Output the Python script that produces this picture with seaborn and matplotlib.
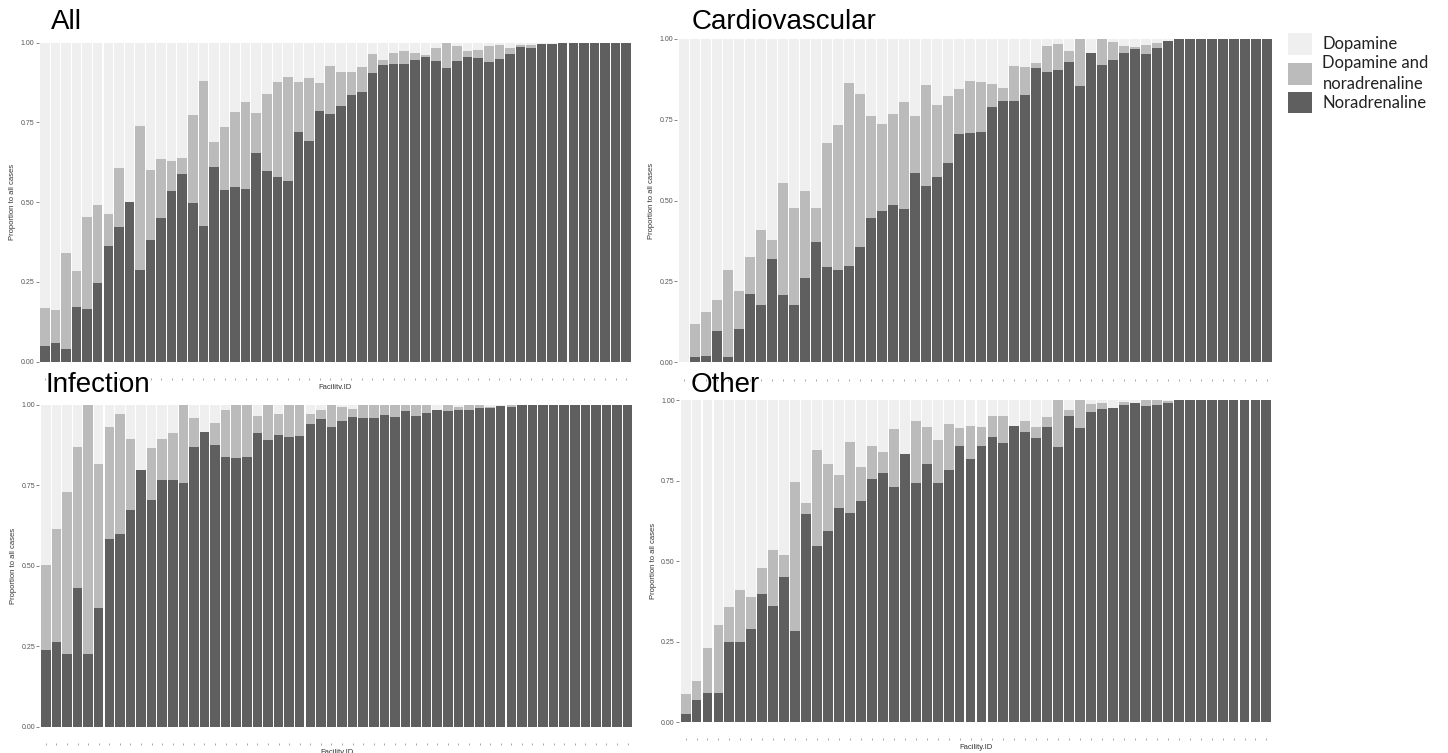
import numpy as np
import pandas as pd
import matplotlib
matplotlib.use("Agg")
import matplotlib.pyplot as plt
from matplotlib.patches import Patch
import seaborn as sns

# ---------------- data ----------------
categories = ["Dopamine", "Dopamine and noradrenaline", "Noradrenaline"]
legend_labels = ["Dopamine", "Dopamine and\nnoradrenaline", "Noradrenaline"]
palette = ["#EFEFEF", "#BBBBBB", "#5F5F5F"]
panel_titles = ["All", "Cardiovascular", "Infection", "Other"]
y_ticks = [0.0, 0.25, 0.5, 0.75, 1.0]
y_tick_labels = ["0.00", "0.25", "0.50", "0.75", "1.00"]
x_title = "Facility.ID"
y_title = "Proportion to all cases"

# proportion of noradrenaline only, and of dopamine + noradrenaline, per facility
all_nor = [0.049, 0.06, 0.039, 0.172, 0.165, 0.246, 0.362, 0.422, 0.50, 0.287,
           0.383, 0.45, 0.536, 0.588, 0.498, 0.425, 0.609, 0.539, 0.548, 0.541,
           0.653, 0.598, 0.58, 0.567, 0.719, 0.693, 0.785, 0.776, 0.80, 0.835,
           0.844, 0.906, 0.93, 0.934, 0.934, 0.947, 0.955, 0.942, 0.922, 0.942,
           0.954, 0.952, 0.938, 0.95, 0.964, 0.987, 0.984, 0.995, 0.997, 0.998,
           1, 1, 1, 1, 1, 1]
all_both = [0.121, 0.103, 0.301, 0.113, 0.288, 0.244, 0.101, 0.186, 0.0, 0.452,
            0.219, 0.185, 0.092, 0.051, 0.275, 0.455, 0.081, 0.198, 0.234, 0.273,
            0.125, 0.242, 0.296, 0.326, 0.157, 0.197, 0.087, 0.152, 0.109, 0.074,
            0.081, 0.057, 0.017, 0.035, 0.039, 0.021, 0.006, 0.04, 0.078, 0.048,
            0.021, 0.025, 0.052, 0.043, 0.018, 0.006, 0.009, 0, 0, 0,
            0, 0, 0, 0, 0, 0]

cardio_nor = [0.0, 0.018, 0.021, 0.096, 0.018, 0.102, 0.211, 0.176, 0.321, 0.207,
              0.176, 0.261, 0.373, 0.294, 0.286, 0.298, 0.356, 0.445, 0.467, 0.487,
              0.473, 0.585, 0.545, 0.573, 0.615, 0.707, 0.71, 0.713, 0.789, 0.809,
              0.809, 0.826, 0.911, 0.899, 0.903, 0.928, 0.856, 0.958, 0.92, 0.936,
              0.958, 0.968, 0.953, 0.971, 0.995, 0.999, 1, 1, 1, 1,
              1, 1, 1, 1]
cardio_both = [0.0, 0.101, 0.134, 0.097, 0.266, 0.12, 0.115, 0.233, 0.056, 0.347,
               0.301, 0.27, 0.104, 0.385, 0.449, 0.567, 0.474, 0.316, 0.27, 0.281,
               0.333, 0.176, 0.313, 0.222, 0.208, 0.137, 0.161, 0.155, 0.071, 0.038,
               0.107, 0.088, 0.016, 0.079, 0.081, 0.036, 0.144, 0.0, 0.08, 0.054,
               0.021, 0.008, 0.029, 0.018, 0, 0, 0, 0, 0, 0,
               0, 0, 0, 0]

infection_nor = [0.238, 0.264, 0.225, 0.43, 0.227, 0.37, 0.585, 0.598, 0.673, 0.797,
                 0.705, 0.768, 0.768, 0.759, 0.868, 0.915, 0.875, 0.839, 0.834, 0.838,
                 0.913, 0.892, 0.906, 0.9, 0.903, 0.942, 0.955, 0.931, 0.949, 0.964,
                 0.96, 0.959, 0.969, 0.962, 0.982, 0.967, 0.976, 0.984, 0.981, 0.984,
                 0.984, 0.99, 0.99, 0.997, 0.994, 1, 1, 1, 1, 1,
                 1, 1, 1, 1, 1, 1]
infection_both = [0.265, 0.349, 0.506, 0.438, 0.773, 0.446, 0.348, 0.374, 0.221, 0.0,
                  0.162, 0.127, 0.144, 0.241, 0.091, 0.0, 0.07, 0.145, 0.166, 0.162,
                  0.054, 0.108, 0.066, 0.1, 0.097, 0.03, 0.029, 0.069, 0.044, 0.022,
                  0.04, 0.041, 0.031, 0.038, 0.018, 0.033, 0.024, 0.0, 0.019, 0.009,
                  0.016, 0.01, 0.005, 0, 0.006, 0, 0, 0, 0, 0,
                  0, 0, 0, 0, 0, 0]

other_nor = [0.025, 0.068, 0.09, 0.09, 0.25, 0.25, 0.289, 0.398, 0.362, 0.45,
             0.282, 0.645, 0.548, 0.595, 0.666, 0.65, 0.688, 0.755, 0.775, 0.73,
             0.834, 0.741, 0.8, 0.741, 0.783, 0.858, 0.817, 0.858, 0.886, 0.866,
             0.919, 0.9, 0.881, 0.917, 0.855, 0.95, 0.914, 0.964, 0.971, 0.975,
             0.983, 0.99, 0.98, 0.985, 0.99, 1, 1, 1, 1, 1,
             1, 1, 1, 1]
other_both = [0.063, 0.061, 0.14, 0.212, 0.107, 0.16, 0.101, 0.082, 0.174, 0.069,
              0.465, 0.036, 0.297, 0.206, 0.102, 0.221, 0.103, 0.102, 0.065, 0.179,
              0.0, 0.195, 0.117, 0.134, 0.142, 0.054, 0.103, 0.059, 0.065, 0.085,
              0.0, 0.035, 0.034, 0.029, 0.145, 0.019, 0.086, 0.023, 0.021, 0.0,
              0.012, 0.0, 0.02, 0.015, 0.008, 0, 0, 0, 0, 0,
              0, 0, 0, 0]

panels = [(all_nor, all_both), (cardio_nor, cardio_both),
          (infection_nor, infection_both), (other_nor, other_both)]

# ---------------- layout (pixels on a 1448x753 canvas) ----------------
W, H = 1448, 753
axes_px = [  # left, right, top, bottom of axes box
    (38.5, 632.5, 26.7, 377.7),
    (677.4, 1273.6, 22.8, 378.5),
    (39.45, 634.0, 388.9, 742.8),
    (679.0, 1273.0, 383.9, 738.4),
]
title_px = [(51, 29.3), (692, 29.0), (45, 391.5), (691, 391.5)]

sns.set_style("white")
plt.rcParams["font.family"] = ["Liberation Sans", "DejaVu Sans"]

fig = plt.figure(figsize=(W / 100, H / 100), dpi=100)
fig.patch.set_facecolor("white")

for (nor, both), title, (l, r, t, b), (tx, ty) in zip(panels, panel_titles, axes_px, title_px):
    ax = fig.add_axes([l / W, 1 - b / H, (r - l) / W, (b - t) / H])
    n = len(nor)
    nor_a = np.array(nor, dtype=float)
    both_a = np.array(both, dtype=float)
    df = pd.DataFrame({
        "Facility": np.arange(n),
        "Dopamine": 1.0 - nor_a - both_a,
        "Dopamine and noradrenaline": both_a,
        "Noradrenaline": nor_a,
    })
    # stacked tops
    df["top_dop"] = df["Dopamine"] + df["Dopamine and noradrenaline"] + df["Noradrenaline"]
    df["top_both"] = df["Dopamine and noradrenaline"] + df["Noradrenaline"]
    df["top_nor"] = df["Noradrenaline"]
    for col, colr in zip(["top_dop", "top_both", "top_nor"], palette):
        sns.barplot(data=df, x="Facility", y=col, color=colr, saturation=1,
                    width=0.9, errorbar=None, linewidth=0, ax=ax)
    ax.set_xlim(-0.6, n - 0.4)
    ax.set_ylim(-0.05, 1.05)
    ax.set_yticks(y_ticks)
    ax.set_yticklabels(y_tick_labels)
    ax.tick_params(axis="y", length=2, width=0.5, color="#555555", pad=1,
                   labelsize=5, labelcolor="#555555", left=True)
    ax.tick_params(axis="x", length=1.2, width=0.6, color="#999999",
                   labelbottom=False, bottom=True)
    for s in ax.spines.values():
        s.set_visible(False)
    ax.set_facecolor("white")
    ax.set_xlabel(x_title, fontsize=5.5, color="#333333", labelpad=3)
    ax.set_ylabel(y_title, fontsize=5.5, color="#333333", labelpad=3)
    fig.text(tx / W, 1 - ty / H, title, fontsize=20, color="black",
             ha="left", va="baseline", family=["Liberation Sans", "DejaVu Sans"])

handles = [Patch(facecolor=c, edgecolor="none") for c in palette]
leg = fig.legend(handles, legend_labels, loc="upper left",
                 bbox_to_anchor=(1288 / W, 1 - 33 / H), frameon=False,
                 handlelength=1.45, handleheight=1.62,
                 handletextpad=0.62, labelspacing=0.0, borderpad=0,
                 borderaxespad=0, prop={"family": ["Lato", "DejaVu Sans"], "size": 12})
for txt in leg.get_texts():
    txt.set_linespacing(1.4)
    txt.set_color("#222222")

fig.savefig("out.png", dpi=100, facecolor="white")
